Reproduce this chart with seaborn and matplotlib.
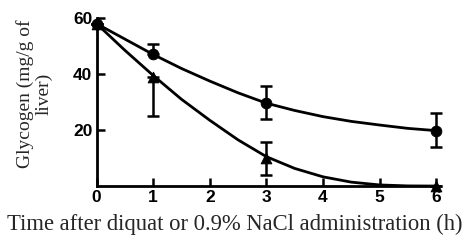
import matplotlib
matplotlib.use("Agg")
import matplotlib.pyplot as plt
import matplotlib.transforms as mtransforms
import seaborn as sns
import pandas as pd

# measured points (h, mg/g)
hours = [0, 1, 3, 6]
saline = [58, 47, 29.6, 19.8]
saline_err_lo = [0, 0, 5.7, 5.8]
saline_err_hi = [0, 3.7, 6.1, 6.4]
diquat = [58, 39, 10, 0]
diquat_err_lo = [0, 14, 6.1, 0]
diquat_err_hi = [0, 0, 5.8, 0]

# fitted curves
curve_hours = [0, 0.5, 1, 1.5, 2, 2.5, 3, 3.5, 4, 4.5, 5, 5.5, 6]
saline_curve = [58, 52.5, 47, 42, 37.5, 33.3, 29.6, 27, 24.8, 23.1, 21.8, 20.6, 19.8]
diquat_curve = [58, 48.5, 39.5, 31, 23.5, 16.5, 10.5, 6.3, 3.3, 1.4, 0.4, 0.05, 0]

x_ticks = [0, 1, 2, 3, 4, 5, 6]
y_ticks = [20, 40, 60]

sns.set_style("ticks")
plt.rcParams["font.family"] = ["Liberation Serif", "DejaVu Serif"]

fig = plt.figure(figsize=(4.71, 2.41), dpi=100)
ax = fig.add_axes([0.205, 0.228, 0.721, 0.697])

curves = pd.DataFrame({"t": curve_hours, "saline": saline_curve, "diquat": diquat_curve})
sns.lineplot(data=curves, x="t", y="saline", color="black", lw=2, ax=ax)
sns.lineplot(data=curves, x="t", y="diquat", color="black", lw=2, ax=ax)

ax.errorbar(hours, saline, yerr=[saline_err_lo, saline_err_hi], fmt="none",
            ecolor="black", elinewidth=1.8, capsize=4, capthick=1.8, clip_on=False)
ax.errorbar(hours, diquat, yerr=[diquat_err_lo, diquat_err_hi], fmt="none",
            ecolor="black", elinewidth=1.8, capsize=4, capthick=1.8, clip_on=False)

pts = pd.DataFrame({"t": hours, "saline": saline, "diquat": diquat})
sns.scatterplot(data=pts, x="t", y="saline", marker="o", s=60, color="black",
                edgecolor="black", ax=ax, clip_on=False, zorder=5)
sns.scatterplot(data=pts, x="t", y="diquat", marker="^", s=60, color="black",
                edgecolor="black", ax=ax, clip_on=False, zorder=5)

ax.set_xlim(0, 6)
ax.set_ylim(0, 60)
ax.set_xticks(x_ticks)
ax.set_yticks(y_ticks)
ax.set_xticklabels([str(v) for v in x_ticks], fontfamily="Liberation Sans",
                   fontweight="bold", fontsize=12.5)
ax.set_yticklabels([str(v) for v in y_ticks], fontfamily="Liberation Sans",
                   fontweight="bold", fontsize=12.5)
# origin label sits left of the axis
lbl0 = ax.get_xticklabels()[0]
lbl0.set_transform(lbl0.get_transform() +
                   mtransforms.ScaledTranslation(-10 / 100, 0, fig.dpi_scale_trans))

ax.tick_params(direction="in", length=6, width=1.8, pad=3, colors="black")
for side in ["left", "bottom"]:
    ax.spines[side].set_linewidth(2)
    ax.spines[side].set_color("black")
sns.despine(ax=ax)

ax.set_xlabel("Time after diquat or 0.9% NaCl administration (h)", fontsize=16.3)
ax.xaxis.set_label_coords(0.408, -0.165)
ax.set_ylabel("Glycogen (mg/g of\nliver)", fontsize=14, linespacing=1.15)
ax.yaxis.set_label_coords(-0.128, 0.548)

fig.savefig("out.png", dpi=100)
